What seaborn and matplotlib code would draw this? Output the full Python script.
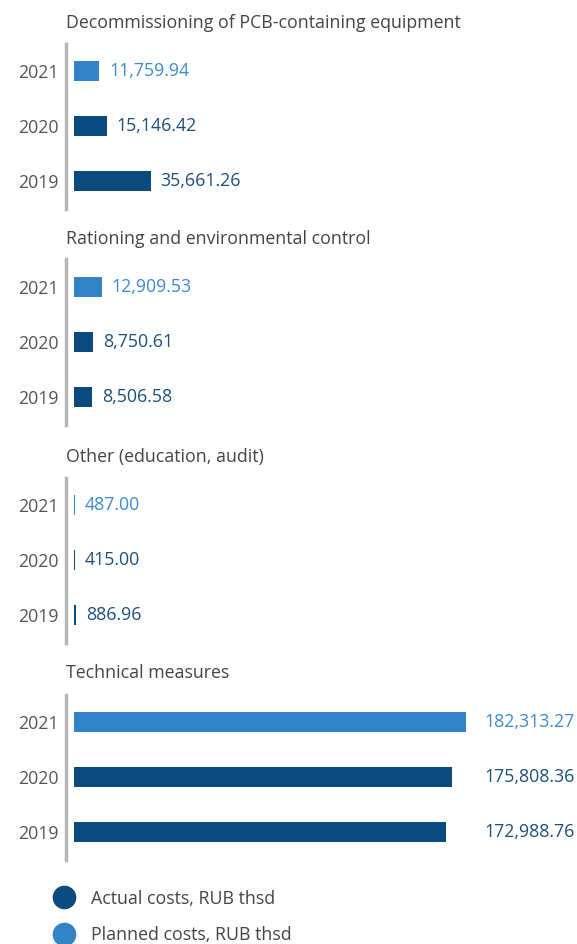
import matplotlib.pyplot as plt
from matplotlib.lines import Line2D
import pandas as pd
import seaborn as sns

# data
sections = [
    "Decommissioning of PCB-containing equipment",
    "Rationing and environmental control",
    "Other (education, audit)",
    "Technical measures",
]
years = ["2021", "2020", "2019"]
kinds = ["Planned", "Actual", "Actual"]
values = [
    [11759.94, 15146.42, 35661.26],
    [12909.53, 8750.61, 8506.58],
    [487.00, 415.00, 886.96],
    [182313.27, 175808.36, 172988.76],
]
legend_labels = ["Actual costs, RUB thsd", "Planned costs, RUB thsd"]

dark = "#0b4a7e"
light = "#3282c6"
dark_txt = "#1d4f7c"
light_txt = "#3c8bd0"
palette = {"Actual": dark, "Planned": light}

sns.set_style("white")
plt.rcParams["font.family"] = ["Open Sans", "DejaVu Sans"]

W, H = 577, 944
fig = plt.figure(figsize=(W / 100, H / 100), dpi=100)
fs = 12.8

x0, x1 = 74, 577
px_per_unit = 392 / 182313.27
xmax = (x1 - x0) / px_per_unit
centers = [126, 342, 560, 777]
gap = 10 / px_per_unit
big_gap = 18 / px_per_unit
vmax = max(max(v) for v in values)

for sec, vals, cy in zip(sections, values, centers):
    top = cy - 82.5
    ax = fig.add_axes([x0 / W, 1 - (cy + 82.5) / H, (x1 - x0) / W, 165 / H])
    df = pd.DataFrame({"year": years, "value": vals, "kind": kinds})
    sns.barplot(data=df, x="value", y="year", hue="kind", palette=palette,
                order=years, dodge=False, width=0.36, legend=False,
                orient="h", ax=ax, linewidth=0, saturation=1)
    ax.set_xlim(0, xmax)
    ax.set_ylim(2.5, -0.5)
    ax.set_xlabel("")
    ax.set_ylabel("")
    ax.set_xticks([])
    for s in ["top", "right", "bottom"]:
        ax.spines[s].set_visible(False)
    ax.spines["left"].set_position(("outward", 5.8))
    ax.spines["left"].set_color("#b4b6b8")
    ax.spines["left"].set_linewidth(2.5)
    ax.tick_params(axis="y", length=0, pad=5, labelsize=fs, labelcolor="#555555")

    for i, (v, k) in enumerate(zip(vals, kinds)):
        xt = vmax + big_gap if v > 0.5 * vmax else v + gap
        ax.text(xt, i, f"{v:,.2f}", va="center", ha="left", fontsize=fs,
                color=light_txt if k == "Planned" else dark_txt)

    fig.text(66 / W, 1 - (top - 21) / H, sec, fontsize=fs, color="#444444",
             va="center", ha="left")

handles = [
    Line2D([], [], marker="o", linestyle="", markersize=16,
           markerfacecolor=dark, markeredgecolor=dark),
    Line2D([], [], marker="o", linestyle="", markersize=16,
           markerfacecolor=light, markeredgecolor=light),
]
fig.legend(handles, legend_labels, loc="center left",
           bbox_to_anchor=(55 / W, 1 - 917 / H), frameon=False, fontsize=fs,
           labelcolor="#444444", handletextpad=1.0, labelspacing=1.05,
           handlelength=1.0, borderaxespad=0, borderpad=0)

fig.savefig("out.png", dpi=100)
